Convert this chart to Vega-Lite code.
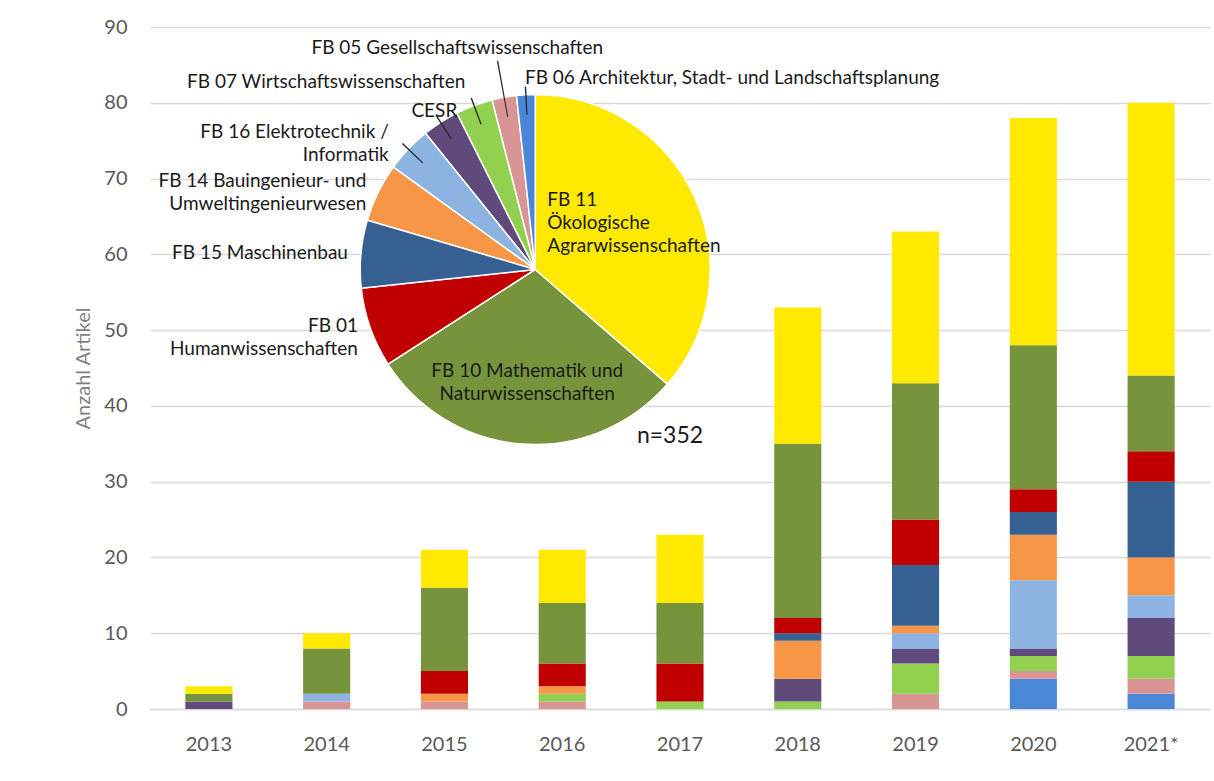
{
  "$schema": "https://vega.github.io/schema/vega-lite/v6.json",
  "width": 1060,
  "height": 682,
  "autosize": {"type": "none"},
  "padding": {"left": 150, "top": 27, "right": 4, "bottom": 72},
  "background": "white",
  "config": {"view": {"stroke": null}, "font": "Lato"},
  "datasets": {
    "counts": [
      {"year": "2013", "fb": "CESR", "n": 1},
      {"year": "2013", "fb": "FB 10", "n": 1},
      {"year": "2013", "fb": "FB 11", "n": 1},
      {"year": "2014", "fb": "FB 05", "n": 1},
      {"year": "2014", "fb": "FB 16", "n": 1},
      {"year": "2014", "fb": "FB 10", "n": 6},
      {"year": "2014", "fb": "FB 11", "n": 2},
      {"year": "2015", "fb": "FB 05", "n": 1},
      {"year": "2015", "fb": "FB 14", "n": 1},
      {"year": "2015", "fb": "FB 01", "n": 3},
      {"year": "2015", "fb": "FB 10", "n": 11},
      {"year": "2015", "fb": "FB 11", "n": 5},
      {"year": "2016", "fb": "FB 05", "n": 1},
      {"year": "2016", "fb": "FB 07", "n": 1},
      {"year": "2016", "fb": "FB 14", "n": 1},
      {"year": "2016", "fb": "FB 01", "n": 3},
      {"year": "2016", "fb": "FB 10", "n": 8},
      {"year": "2016", "fb": "FB 11", "n": 7},
      {"year": "2017", "fb": "FB 07", "n": 1},
      {"year": "2017", "fb": "FB 01", "n": 5},
      {"year": "2017", "fb": "FB 10", "n": 8},
      {"year": "2017", "fb": "FB 11", "n": 9},
      {"year": "2018", "fb": "FB 07", "n": 1},
      {"year": "2018", "fb": "CESR", "n": 3},
      {"year": "2018", "fb": "FB 14", "n": 5},
      {"year": "2018", "fb": "FB 15", "n": 1},
      {"year": "2018", "fb": "FB 01", "n": 2},
      {"year": "2018", "fb": "FB 10", "n": 23},
      {"year": "2018", "fb": "FB 11", "n": 18},
      {"year": "2019", "fb": "FB 05", "n": 2},
      {"year": "2019", "fb": "FB 07", "n": 4},
      {"year": "2019", "fb": "CESR", "n": 2},
      {"year": "2019", "fb": "FB 16", "n": 2},
      {"year": "2019", "fb": "FB 14", "n": 1},
      {"year": "2019", "fb": "FB 15", "n": 8},
      {"year": "2019", "fb": "FB 01", "n": 6},
      {"year": "2019", "fb": "FB 10", "n": 18},
      {"year": "2019", "fb": "FB 11", "n": 20},
      {"year": "2020", "fb": "FB 06", "n": 4},
      {"year": "2020", "fb": "FB 05", "n": 1},
      {"year": "2020", "fb": "FB 07", "n": 2},
      {"year": "2020", "fb": "CESR", "n": 1},
      {"year": "2020", "fb": "FB 16", "n": 9},
      {"year": "2020", "fb": "FB 14", "n": 6},
      {"year": "2020", "fb": "FB 15", "n": 3},
      {"year": "2020", "fb": "FB 01", "n": 3},
      {"year": "2020", "fb": "FB 10", "n": 19},
      {"year": "2020", "fb": "FB 11", "n": 30},
      {"year": "2021*", "fb": "FB 06", "n": 2},
      {"year": "2021*", "fb": "FB 05", "n": 2},
      {"year": "2021*", "fb": "FB 07", "n": 3},
      {"year": "2021*", "fb": "CESR", "n": 5},
      {"year": "2021*", "fb": "FB 16", "n": 3},
      {"year": "2021*", "fb": "FB 14", "n": 5},
      {"year": "2021*", "fb": "FB 15", "n": 10},
      {"year": "2021*", "fb": "FB 01", "n": 4},
      {"year": "2021*", "fb": "FB 10", "n": 10},
      {"year": "2021*", "fb": "FB 11", "n": 36}
    ],
    "labels": [
      {"fb": "FB 11", "label": "FB 11\nÖkologische\nAgrarwissenschaften"},
      {"fb": "FB 10", "label": "FB 10 Mathematik und\nNaturwissenschaften"},
      {"fb": "FB 01", "label": "FB 01\nHumanwissenschaften"},
      {"fb": "FB 15", "label": "FB 15 Maschinenbau"},
      {"fb": "FB 14", "label": "FB 14 Bauingenieur- und\nUmweltingenieurwesen"},
      {"fb": "FB 16", "label": "FB 16 Elektrotechnik /\nInformatik"},
      {"fb": "CESR", "label": "CESR"},
      {"fb": "FB 07", "label": "FB 07 Wirtschaftswissenschaften"},
      {"fb": "FB 05", "label": "FB 05 Gesellschaftswissenschaften"},
      {"fb": "FB 06", "label": "FB 06 Architektur, Stadt- und Landschaftsplanung"}
    ]
  },
  "data": {"name": "counts"},
  "layer": [
    {
      "transform": [
        {"joinaggregate": [{"op": "sum", "field": "n", "as": "total"}], "groupby": ["fb"]},
        {"window": [{"op": "dense_rank", "as": "rk"}], "sort": [{"field": "total", "order": "ascending"}, {"field": "fb", "order": "descending"}]}
      ],
      "mark": {"type": "bar"},
      "encoding": {
        "x": {
          "field": "year", "type": "nominal", "sort": null,
          "scale": {"paddingInner": 0.6, "paddingOuter": 0.3},
          "axis": {
            "title": null, "labelAngle": 0, "labelFontSize": 20, "labelColor": "#595959",
            "labelPadding": 25, "ticks": false, "domainColor": "#d9d9d9", "domainWidth": 1.5
          }
        },
        "y": {
          "field": "n", "type": "quantitative", "stack": true,
          "scale": {"domain": [0, 90], "nice": false},
          "axis": {
            "title": "Anzahl Artikel", "values": [0, 10, 20, 30, 40, 50, 60, 70, 80, 90],
            "labelFontSize": 20, "labelColor": "#595959", "labelPadding": 23,
            "ticks": false, "domain": false, "gridColor": "#d9d9d9", "gridWidth": 1.5,
            "titleFontSize": 20, "titleColor": "#7f7f7f", "titleFontWeight": "normal", "titlePadding": 10
          }
        },
        "color": {
          "field": "fb", "type": "nominal", "legend": null,
          "scale": {
            "domain": ["FB 06", "FB 05", "FB 07", "CESR", "FB 16", "FB 14", "FB 15", "FB 01", "FB 10", "FB 11"],
            "range": ["#4a87d8", "#d99594", "#92d050", "#604a7b", "#8db3e2", "#f79646", "#366092", "#c00000", "#77933c", "#ffe900"]
          }
        },
        "order": {"field": "rk", "type": "quantitative", "sort": "ascending"}
      }
    },
    {
      "transform": [
        {"aggregate": [{"op": "sum", "field": "n", "as": "total"}], "groupby": ["fb"]},
        {"lookup": "fb", "from": {"data": {"name": "labels"}, "key": "fb", "fields": ["label"]}},
        {"window": [{"op": "row_number", "as": "rk"}], "sort": [{"field": "total", "order": "descending"}, {"field": "fb", "order": "ascending"}]}
      ],
      "encoding": {
        "x": {"datum": "2016", "type": "nominal"},
        "y": {"datum": 58, "type": "quantitative"},
        "theta": {"field": "total", "type": "quantitative", "stack": true},
        "order": {"field": "rk", "type": "quantitative", "sort": "ascending"}
      },
      "layer": [
        {
          "mark": {"type": "arc", "outerRadius": 175, "stroke": "white", "strokeWidth": 1.5, "xOffset": -27},
          "encoding": {"color": {"field": "fb", "type": "nominal", "legend": null}}
        },
        {
          "transform": [
            {"stack": "total", "groupby": [], "sort": [{"field": "rk", "order": "ascending"}], "as": ["s0", "s1"]},
            {"filter": "indexof(['FB 06','FB 07','CESR','FB 16'], datum.fb) >= 0"},
            {"calculate": "(datum.s0 + datum.s1) / 2 - 0.22", "as": "m0"},
            {"calculate": "(datum.s0 + datum.s1) / 2 + 0.22", "as": "m1"}
          ],
          "mark": {"type": "arc", "innerRadius": 155, "outerRadius": 183, "color": "#262626", "xOffset": -27},
          "encoding": {
            "theta": {"field": "m0", "type": "quantitative", "stack": null},
            "theta2": {"field": "m1"}
          }
        },
        {
          "transform": [
            {"stack": "total", "groupby": [], "sort": [{"field": "rk", "order": "ascending"}], "as": ["s0", "s1"]},
            {"filter": "datum.fb === 'FB 05'"},
            {"calculate": "(datum.s0 + datum.s1) / 2 - 0.18", "as": "m0"},
            {"calculate": "(datum.s0 + datum.s1) / 2 + 0.18", "as": "m1"}
          ],
          "mark": {"type": "arc", "innerRadius": 155, "outerRadius": 212, "color": "#262626", "xOffset": -27},
          "encoding": {
            "theta": {"field": "m0", "type": "quantitative", "stack": null},
            "theta2": {"field": "m1"}
          }
        },
        {
          "mark": {"type": "text", "radius": 110, "align": "left", "baseline": "middle", "dx": -88, "dy": -24, "xOffset": -27, "fontSize": 19, "lineHeight": 23, "lineBreak": "\n", "color": "#1a1a1a"},
          "encoding": {
            "detail": {"field": "fb", "type": "nominal"},
            "text": {"condition": {"test": "datum.fb === 'FB 11'", "field": "label"}, "value": ""}
          }
        },
        {
          "mark": {"type": "text", "radius": 112, "align": "center", "baseline": "middle", "dy": -10, "xOffset": -27, "fontSize": 19, "lineHeight": 23, "lineBreak": "\n", "color": "#1a1a1a"},
          "encoding": {
            "detail": {"field": "fb", "type": "nominal"},
            "text": {"condition": {"test": "datum.fb === 'FB 10'", "field": "label"}, "value": ""}
          }
        },
        {
          "mark": {"type": "text", "radius": 188, "align": "right", "baseline": "middle", "dy": -6, "xOffset": -27, "fontSize": 19, "lineHeight": 23, "lineBreak": "\n", "color": "#1a1a1a"},
          "encoding": {
            "detail": {"field": "fb", "type": "nominal"},
            "text": {"condition": {"test": "indexof(['FB 01','FB 14'], datum.fb) >= 0", "field": "label"}, "value": ""}
          }
        },
        {
          "mark": {"type": "text", "radius": 188, "align": "right", "baseline": "middle", "dx": -10, "dy": -8, "xOffset": -27, "fontSize": 19, "lineHeight": 23, "lineBreak": "\n", "color": "#1a1a1a"},
          "encoding": {
            "detail": {"field": "fb", "type": "nominal"},
            "text": {"condition": {"test": "datum.fb === 'FB 16'", "field": "label"}, "value": ""}
          }
        },
        {
          "mark": {"type": "text", "radius": 188, "align": "right", "baseline": "middle", "xOffset": -27, "fontSize": 19, "lineHeight": 23, "lineBreak": "\n", "color": "#1a1a1a"},
          "encoding": {
            "detail": {"field": "fb", "type": "nominal"},
            "text": {"condition": {"test": "datum.fb === 'FB 15'", "field": "label"}, "value": ""}
          }
        },
        {
          "mark": {"type": "text", "radius": 200, "align": "right", "baseline": "middle", "xOffset": -27, "fontSize": 19, "lineHeight": 23, "lineBreak": "\n", "color": "#1a1a1a"},
          "encoding": {
            "detail": {"field": "fb", "type": "nominal"},
            "text": {"condition": {"test": "datum.fb === 'FB 07'", "field": "label"}, "value": ""}
          }
        },
        {
          "mark": {"type": "text", "radius": 225, "align": "center", "baseline": "middle", "dx": -38, "xOffset": -27, "fontSize": 19, "lineHeight": 23, "lineBreak": "\n", "color": "#1a1a1a"},
          "encoding": {
            "detail": {"field": "fb", "type": "nominal"},
            "text": {"condition": {"test": "datum.fb === 'FB 05'", "field": "label"}, "value": ""}
          }
        },
        {
          "mark": {"type": "text", "radius": 192, "align": "left", "baseline": "middle", "xOffset": -27, "fontSize": 19, "lineHeight": 23, "lineBreak": "\n", "color": "#1a1a1a"},
          "encoding": {
            "detail": {"field": "fb", "type": "nominal"},
            "text": {"condition": {"test": "datum.fb === 'FB 06'", "field": "label"}, "value": ""}
          }
        },
        {
          "mark": {"type": "text", "radius": 192, "align": "left", "baseline": "middle", "dx": -20, "dy": 3, "xOffset": -27, "fontSize": 19, "lineHeight": 23, "lineBreak": "\n", "color": "#1a1a1a"},
          "encoding": {
            "detail": {"field": "fb", "type": "nominal"},
            "text": {"condition": {"test": "datum.fb === 'CESR'", "field": "label"}, "value": ""}
          }
        }
      ]
    },
    {
      "transform": [
        {"aggregate": [{"op": "sum", "field": "n", "as": "total"}]},
        {"calculate": "'n=' + datum.total", "as": "ntext"}
      ],
      "mark": {"type": "text", "fontSize": 23, "color": "#1a1a1a", "dx": -10, "baseline": "middle"},
      "encoding": {
        "x": {"datum": "2017", "type": "nominal"},
        "y": {"datum": 36, "type": "quantitative"},
        "text": {"field": "ntext", "type": "nominal"}
      }
    }
  ]
}
